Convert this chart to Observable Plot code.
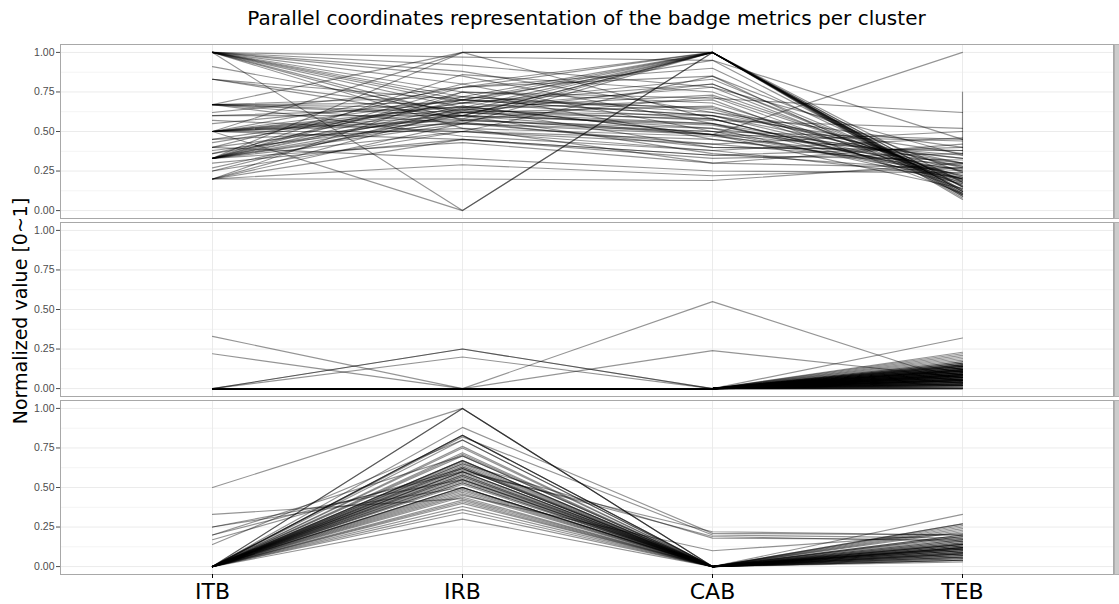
<!DOCTYPE html>
<html><head><meta charset="utf-8">
<script src="https://cdn.jsdelivr.net/npm/d3@7"></script>
<script src="https://cdn.jsdelivr.net/npm/@observablehq/plot@0.6"></script>
<style>
body{margin:0;background:#fff;}
#wrap{position:relative;width:1119px;height:604px;overflow:hidden;}
#title{height:36px;width:1053px;padding-left:60px;text-align:center;font-family:"DejaVu Sans",sans-serif;font-size:20px;line-height:36px;color:#000;}
#ylab{position:absolute;left:20px;top:311px;transform:translate(-50%,-50%) rotate(-90deg);white-space:nowrap;font-family:"DejaVu Sans",sans-serif;font-size:19px;color:#000;}
</style></head><body>
<div id="wrap">
<div id="title">Parallel coordinates representation of the badge metrics per cluster</div>
<div id="chart"></div>
<div id="ylab">Normalized value [0~1]</div>
</div>
<script>
const badges = ["ITB", "IRB", "CAB", "TEB"];
const clusters = [1, 2, 3];
const majorTicks = [0, 0.25, 0.5, 0.75, 1];
const minorTicks = [0.125, 0.375, 0.625, 0.875];

// cluster 1: [ITB, IRB, CAB, TEB]
const cluster1 = [
  [1,0,1,0.12],[0.5,0,1,0.15],[1,0.97,0.95,0.45],[1,0.92,0.78,0.35],[1,0.88,0.62,0.3],
  [1,0.85,0.55,0.22],[1,0.8,0.5,0.2],[1,0.75,0.45,0.28],[1,0.72,1,0.1],[1,0.68,0.83,0.18],
  [1,0.65,0.4,0.38],[1,0.6,0.36,0.25],[1,0.57,0.72,0.16],[1,0.52,0.3,0.42],[0.91,0.62,0.58,0.2],
  [0.83,0.7,0.65,0.27],[0.83,0.58,0.48,0.14],[0.67,0.68,1,0.09],[0.67,0.62,0.8,0.19],[0.67,0.55,0.5,0.33],
  [0.67,0.65,0.73,0.21],[0.67,0.47,0.38,0.46],[0.67,0.72,0.62,0.4],[0.6,0.6,0.55,0.3],[0.6,0.65,1,0.13],
  [0.57,0.5,0.45,0.26],[0.55,0.7,0.6,0.36],[0.5,0.62,0.52,0.17],[0.5,0.6,0.48,0.23],[0.5,0.58,1,0.08],
  [0.5,0.64,0.7,0.11],[0.5,0.45,0.35,0.32],[0.5,0.55,0.42,0.5],[0.5,1,1,0.12],[0.5,0.78,0.85,0.24],
  [0.45,0.52,0.47,0.3],[0.43,0.68,0.58,0.19],[0.4,0.6,0.54,0.25],[0.4,0.8,1,0.1],[0.38,0.56,0.4,0.38],
  [0.36,0.62,0.66,0.14],[0.33,1,1,0.07],[0.33,0.86,0.75,0.2],[0.33,0.78,0.9,0.15],[0.33,0.7,0.6,0.28],
  [0.33,0.66,0.48,0.44],[0.33,0.6,1,0.11],[0.33,0.57,0.52,0.33],[0.33,0.5,0.38,0.21],[0.33,0.43,0.3,0.27],
  [0.33,0.75,0.71,0.62],[0.33,0.55,0.48,1],[0.3,0.45,0.35,0.4],[0.27,0.62,0.55,0.18],[0.25,0.5,0.42,0.29],
  [0.25,0.65,0.78,0.16],[0.2,0.29,0.22,0.27],[0.2,0.2,0.19,0.3],[0.2,0.63,0.6,0.22],[0.2,0.55,1,0.12],
  [0.2,0.45,0.33,0.36],[0.2,0.75,0.68,0.2],[0.4,0.33,0.25,0.24],[0.45,0.68,0.8,0.17],[0.62,0.78,1,0.09],
  [0.5,0.7,0.95,0.13],[0.36,0.72,0.64,0.25],[0.5,0.57,0.5,0.45],[0.67,1,0.58,0.2],[0.83,0.63,1,0.11],
  [0.33,0.64,0.57,0.52],[1,0.7,1,0.15],[0.5,0.5,0.85,0.1],[0.67,0.6,1,0.18]
];
// one record in cluster 1 carries a second TEB value
const cluster1Extra = [0.5, 0.66, 0.48, 0.35, 0.75];
const cluster1ExtraBadges = ["ITB", "IRB", "CAB", "TEB", "TEB"];

// cluster 2: a few distinct records plus many records at 0,0,0 with small TEB
const cluster2 = [
  [0.33,0,0.55,0.04],[0.22,0,0.24,0.07],[0,0.25,0,0.05],[0,0.25,0,0.02],[0,0.2,0,0.03]
];
const cluster2TEB = [
  0.32,0.23,0.22,0.21,0.2,0.19,0.18,0.17,0.17,0.16,0.16,0.16,0.15,0.15,0.15,0.15,0.14,0.14,0.14,0.14,0.14,
  0.13,0.13,0.13,0.13,0.13,0.13,0.12,0.12,0.12,0.12,0.12,0.12,0.12,0.11,0.11,0.11,0.11,0.11,0.11,0.11,
  0.1,0.1,0.1,0.1,0.1,0.1,0.1,0.1,0.09,0.09,0.09,0.09,0.09,0.09,0.09,0.09,
  0.08,0.08,0.08,0.08,0.08,0.08,0.08,0.08,0.07,0.07,0.07,0.07,0.07,0.07,0.07,0.07,
  0.06,0.06,0.06,0.06,0.06,0.06,0.06,0.05,0.05,0.05,0.05,0.05,0.05,0.05,
  0.04,0.04,0.04,0.04,0.04,0.04,0.03,0.03,0.03,0.03,0.03,0.02,0.02,0.02,0.02,
  0.01,0.01,0.01,0.01,0,0,0,0
];

// cluster 3: [ITB, IRB, CAB, TEB]
const cluster3 = [
  [0,1,0,0.12],[0,1,0,0.2],[0.5,1,0,0.08],[0,0.88,0.21,0.2],[0,0.83,0,0.27],
  [0,0.83,0,0.15],[0,0.82,0.2,0.18],[0,0.8,0,0.1],[0,0.76,0,0.22],[0,0.72,0,0.06],
  [0,0.7,0,0.16],[0,0.67,0,0.13],[0,0.67,0,0.19],[0,0.65,0.18,0.17],[0,0.63,0,0.09],
  [0,0.62,0,0.24],[0,0.6,0,0.11],[0,0.6,0,0.14],[0,0.58,0,0.07],[0,0.57,0,0.2],
  [0,0.56,0,0.12],[0,0.55,0,0.04],[0,0.53,0,0.16],[0,0.5,0,0.1],[0,0.5,0,0.26],
  [0,0.48,0,0.13],[0,0.46,0,0.08],[0,0.45,0.1,0.21],[0,0.42,0,0.05],[0,0.4,0,0.15],
  [0,0.38,0,0.11],[0,0.36,0,0.18],[0,0.34,0,0.03],[0,0.3,0,0.09],[0.33,0.43,0,0.14],
  [0.25,0.5,0,0.12],[0.2,0.6,0.22,0.2],[0.2,0.7,0,0.17],[0.17,0.62,0,0.1],[0.14,0.8,0,0.23],
  [0.25,0.55,0,0.33],[0,0.75,0,0.27],[0,0.64,0,0.06],[0,0.52,0,0.19],[0,0.59,0,0.08],
  [0,0.66,0,0.14],[0,0.61,0.19,0.16],[0,0.54,0,0.25],[0,0.44,0,0.12],[0,0.49,0,0.07],
  [0,0.57,0,0.04],[0,0.63,0,0.17],[0,0.83,0,0.11],[0,0.62,0,0.05],[0,0.58,0,0.13],
  [0,0.55,0,0.09],[0,0.5,0,0.14],[0,0.6,0,0.06],[0,0.67,0,0.1],[0,0.47,0,0.04],
  [0,0.53,0,0.11],[0,0.41,0,0.08],[0,0.71,0,0.12],[0,0.65,0,0.07]
];

const rows = [];
function add(cluster, id, values, keys) {
  values.forEach((v, j) => rows.push({cluster, id, badge: keys[j], value: v}));
}
cluster1.forEach((r, i) => add(1, "c1-" + i, r, badges));
add(1, "c1-extra", cluster1Extra, cluster1ExtraBadges);
cluster2.forEach((r, i) => add(2, "c2-" + i, r, badges));
cluster2TEB.forEach((t, i) => add(2, "c2z-" + i, [0, 0, 0, t], badges));
cluster3.forEach((r, i) => add(3, "c3-" + i, r, badges));

const W = 1119, H = 568, ML = 60, MR = 6;
const chart = Plot.plot({
  width: W, height: H,
  marginTop: 7, marginBottom: 28, marginLeft: ML, marginRight: MR,
  style: {fontFamily: "'Liberation Sans', Arial, sans-serif", background: "white"},
  x: {type: "point", domain: badges, padding: 0.6, label: null},
  y: {domain: [-0.05, 1.05], label: null},
  fy: {domain: clusters, paddingInner: 0.0223, paddingOuter: 0, label: null, axis: null},
  marks: [
    Plot.frame({fill: "#cccccc", stroke: "#b0b0b0", insetLeft: W - ML - MR + 1, insetRight: -MR}),
    Plot.ruleY(minorTicks, {stroke: "#f4f4f4", strokeWidth: 1}),
    Plot.ruleY(majorTicks, {stroke: "#ebebeb", strokeWidth: 1}),
    Plot.ruleX(badges, {stroke: "#ebebeb", strokeWidth: 1}),
    Plot.line(rows, {x: "badge", y: "value", z: "id", fy: "cluster", stroke: "black", strokeOpacity: 0.42, strokeWidth: 1.15}),
    Plot.frame({stroke: "#a8a8a8", strokeWidth: 1}),
    Plot.axisY({ticks: majorTicks, tickFormat: ".2f", tickSize: 4, tickPadding: 2, fontSize: 10.5, color: "#4d4d4d", label: null}),
    Plot.axisX({tickSize: 4, tickPadding: 5, fontSize: 22, fontFamily: "'DejaVu Sans', sans-serif", color: "#000", label: null})
  ]
});
document.getElementById("chart").appendChild(chart);
</script>
</body></html>
